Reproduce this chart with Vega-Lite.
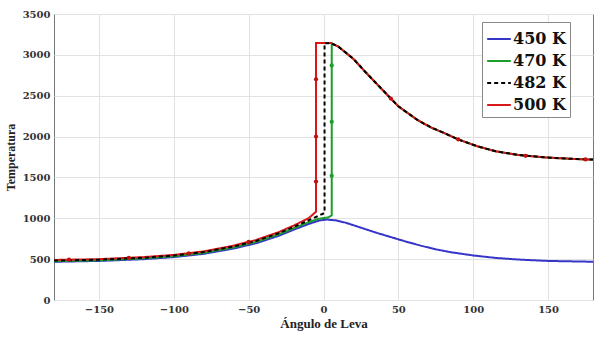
{
  "$schema": "https://vega.github.io/schema/vega-lite/v6.json",
  "width": 595,
  "height": 340,
  "autosize": {"type": "fit", "contains": "padding"},
  "padding": {"top": 9, "right": 2, "bottom": 10, "left": 4},
  "background": "white",
  "config": {
    "view": {"stroke": "#777", "strokeWidth": 1},
    "axis": {
      "gridColor": "#e2e2e2",
      "domain": false,
      "ticks": false
    }
  },
  "datasets": {
    "curves": [
      {"series": "450 K", "angle": -180, "temp": 468},
      {"series": "450 K", "angle": -150, "temp": 478},
      {"series": "450 K", "angle": -120, "temp": 500},
      {"series": "450 K", "angle": -100, "temp": 525},
      {"series": "450 K", "angle": -80, "temp": 565},
      {"series": "450 K", "angle": -60, "temp": 630},
      {"series": "450 K", "angle": -45, "temp": 695},
      {"series": "450 K", "angle": -30, "temp": 785},
      {"series": "450 K", "angle": -20, "temp": 860},
      {"series": "450 K", "angle": -10, "temp": 930},
      {"series": "450 K", "angle": -3, "temp": 972},
      {"series": "450 K", "angle": 2, "temp": 985},
      {"series": "450 K", "angle": 8, "temp": 975},
      {"series": "450 K", "angle": 15, "temp": 945},
      {"series": "450 K", "angle": 25, "temp": 885},
      {"series": "450 K", "angle": 35, "temp": 825},
      {"series": "450 K", "angle": 45, "temp": 770},
      {"series": "450 K", "angle": 55, "temp": 715},
      {"series": "450 K", "angle": 65, "temp": 665},
      {"series": "450 K", "angle": 75, "temp": 620},
      {"series": "450 K", "angle": 85, "temp": 585},
      {"series": "450 K", "angle": 100, "temp": 545},
      {"series": "450 K", "angle": 115, "temp": 515},
      {"series": "450 K", "angle": 130, "temp": 495},
      {"series": "450 K", "angle": 150, "temp": 478},
      {"series": "450 K", "angle": 180, "temp": 468},

      {"series": "470 K", "angle": -180, "temp": 475},
      {"series": "470 K", "angle": -150, "temp": 486},
      {"series": "470 K", "angle": -120, "temp": 510},
      {"series": "470 K", "angle": -100, "temp": 536},
      {"series": "470 K", "angle": -80, "temp": 577},
      {"series": "470 K", "angle": -60, "temp": 645},
      {"series": "470 K", "angle": -45, "temp": 712},
      {"series": "470 K", "angle": -30, "temp": 803},
      {"series": "470 K", "angle": -20, "temp": 878},
      {"series": "470 K", "angle": -10, "temp": 952},
      {"series": "470 K", "angle": -3, "temp": 995},
      {"series": "470 K", "angle": 3, "temp": 1010},
      {"series": "470 K", "angle": 5.5, "temp": 1035},
      {"series": "470 K", "angle": 5.5, "temp": 3140},
      {"series": "470 K", "angle": 10, "temp": 3100},
      {"series": "470 K", "angle": 20, "temp": 2950},
      {"series": "470 K", "angle": 28, "temp": 2790},
      {"series": "470 K", "angle": 40, "temp": 2560},
      {"series": "470 K", "angle": 50, "temp": 2370},
      {"series": "470 K", "angle": 63, "temp": 2200},
      {"series": "470 K", "angle": 72, "temp": 2110},
      {"series": "470 K", "angle": 81, "temp": 2040},
      {"series": "470 K", "angle": 90, "temp": 1965},
      {"series": "470 K", "angle": 103, "temp": 1880},
      {"series": "470 K", "angle": 115, "temp": 1820},
      {"series": "470 K", "angle": 130, "temp": 1775},
      {"series": "470 K", "angle": 148, "temp": 1745},
      {"series": "470 K", "angle": 165, "temp": 1728},
      {"series": "470 K", "angle": 180, "temp": 1718},

      {"series": "500 K", "angle": -180, "temp": 490},
      {"series": "500 K", "angle": -150, "temp": 500},
      {"series": "500 K", "angle": -120, "temp": 525},
      {"series": "500 K", "angle": -100, "temp": 552},
      {"series": "500 K", "angle": -80, "temp": 595},
      {"series": "500 K", "angle": -60, "temp": 665},
      {"series": "500 K", "angle": -45, "temp": 735},
      {"series": "500 K", "angle": -30, "temp": 830},
      {"series": "500 K", "angle": -20, "temp": 910},
      {"series": "500 K", "angle": -10, "temp": 1000},
      {"series": "500 K", "angle": -5, "temp": 1080},
      {"series": "500 K", "angle": -5, "temp": 3145},
      {"series": "500 K", "angle": 5, "temp": 3145},
      {"series": "500 K", "angle": 10, "temp": 3100},
      {"series": "500 K", "angle": 20, "temp": 2950},
      {"series": "500 K", "angle": 28, "temp": 2790},
      {"series": "500 K", "angle": 40, "temp": 2560},
      {"series": "500 K", "angle": 50, "temp": 2370},
      {"series": "500 K", "angle": 63, "temp": 2200},
      {"series": "500 K", "angle": 72, "temp": 2110},
      {"series": "500 K", "angle": 81, "temp": 2040},
      {"series": "500 K", "angle": 90, "temp": 1965},
      {"series": "500 K", "angle": 103, "temp": 1880},
      {"series": "500 K", "angle": 115, "temp": 1820},
      {"series": "500 K", "angle": 130, "temp": 1775},
      {"series": "500 K", "angle": 148, "temp": 1745},
      {"series": "500 K", "angle": 165, "temp": 1728},
      {"series": "500 K", "angle": 180, "temp": 1718},

      {"series": "482 K", "angle": -180, "temp": 482},
      {"series": "482 K", "angle": -150, "temp": 493},
      {"series": "482 K", "angle": -120, "temp": 517},
      {"series": "482 K", "angle": -100, "temp": 544},
      {"series": "482 K", "angle": -80, "temp": 586},
      {"series": "482 K", "angle": -60, "temp": 655},
      {"series": "482 K", "angle": -45, "temp": 723},
      {"series": "482 K", "angle": -30, "temp": 816},
      {"series": "482 K", "angle": -20, "temp": 893},
      {"series": "482 K", "angle": -10, "temp": 975},
      {"series": "482 K", "angle": -4, "temp": 1025},
      {"series": "482 K", "angle": 0.7, "temp": 1065},
      {"series": "482 K", "angle": 0.7, "temp": 3142},
      {"series": "482 K", "angle": 5, "temp": 3142},
      {"series": "482 K", "angle": 10, "temp": 3100},
      {"series": "482 K", "angle": 20, "temp": 2950},
      {"series": "482 K", "angle": 28, "temp": 2790},
      {"series": "482 K", "angle": 40, "temp": 2560},
      {"series": "482 K", "angle": 50, "temp": 2370},
      {"series": "482 K", "angle": 63, "temp": 2200},
      {"series": "482 K", "angle": 72, "temp": 2110},
      {"series": "482 K", "angle": 81, "temp": 2040},
      {"series": "482 K", "angle": 90, "temp": 1965},
      {"series": "482 K", "angle": 103, "temp": 1880},
      {"series": "482 K", "angle": 115, "temp": 1820},
      {"series": "482 K", "angle": 130, "temp": 1775},
      {"series": "482 K", "angle": 148, "temp": 1745},
      {"series": "482 K", "angle": 165, "temp": 1728},
      {"series": "482 K", "angle": 180, "temp": 1718}
    ],
    "markers": [
      {"series": "500 K", "angle": -170, "temp": 493},
      {"series": "500 K", "angle": -130, "temp": 515},
      {"series": "500 K", "angle": -90, "temp": 572},
      {"series": "500 K", "angle": -50, "temp": 710},
      {"series": "500 K", "angle": -5, "temp": 1450},
      {"series": "500 K", "angle": -5, "temp": 2000},
      {"series": "500 K", "angle": -5, "temp": 2700},
      {"series": "500 K", "angle": 45, "temp": 2465},
      {"series": "500 K", "angle": 90, "temp": 1965},
      {"series": "500 K", "angle": 135, "temp": 1765},
      {"series": "500 K", "angle": 175, "temp": 1720},
      {"series": "470 K", "angle": 5.5, "temp": 1520},
      {"series": "470 K", "angle": 5.5, "temp": 2180},
      {"series": "470 K", "angle": 5.5, "temp": 2870}
    ]
  },
  "layer": [
    {
      "data": {"name": "curves"},
      "mark": {"type": "line", "strokeWidth": 2, "clip": true},
      "encoding": {
        "x": {
          "field": "angle", "type": "quantitative",
          "scale": {"domain": [-180, 180], "nice": false},
          "axis": {
            "title": "Ángulo de Leva",
            "values": [-150, -100, -50, 0, 50, 100, 150],
            "format": "d",
            "grid": true,
            "labelFont": "DejaVu Serif",
            "labelFontWeight": "bold",
            "labelFontSize": 10,
            "labelColor": "#333",
            "labelPadding": 4,
            "titleFont": "Liberation Serif",
            "titleFontWeight": "bold",
            "titleFontSize": 13,
            "titleColor": "#222",
            "titlePadding": 3
          }
        },
        "y": {
          "field": "temp", "type": "quantitative",
          "scale": {"domain": [0, 3500], "nice": false},
          "axis": {
            "title": "Temperatura",
            "values": [0, 500, 1000, 1500, 2000, 2500, 3000, 3500],
            "format": "d",
            "grid": true,
            "labelFont": "DejaVu Serif",
            "labelFontWeight": "bold",
            "labelFontSize": 10,
            "labelColor": "#333",
            "labelPadding": 4,
            "titleFont": "Liberation Serif",
            "titleFontWeight": "bold",
            "titleFontSize": 12,
            "titleColor": "#222",
            "titlePadding": 5
          }
        },
        "color": {
          "field": "series", "type": "nominal",
          "scale": {"domain": ["450 K", "470 K", "482 K", "500 K"], "range": ["#3535c8", "#1c9e2a", "#000000", "#d81818"]},
          "legend": {
            "title": null,
            "orient": "none",
            "legendX": 428,
            "legendY": 8,
            "symbolType": "stroke",
            "symbolSize": 560,
            "symbolStrokeWidth": 2,
            "labelFont": "DejaVu Serif",
            "labelFontSize": 16,
            "labelFontWeight": "bold",
            "labelColor": "#111",
            "labelOffset": 1,
            "rowPadding": 1,
            "padding": 4,
            "fillColor": "white",
            "strokeColor": "#888"
          }
        },
        "strokeDash": {
          "field": "series", "type": "nominal",
          "scale": {"domain": ["450 K", "470 K", "482 K", "500 K"], "range": [[1, 0], [1, 0], [4, 3], [1, 0]]},
          "legend": {"title": null}
        },
        "order": {"value": null}
      }
    },
    {
      "data": {"name": "markers"},
      "mark": {"type": "point", "filled": true, "size": 18, "opacity": 1},
      "encoding": {
        "x": {"field": "angle", "type": "quantitative"},
        "y": {"field": "temp", "type": "quantitative"},
        "fill": {
          "field": "series", "type": "nominal",
          "scale": {"domain": ["470 K", "500 K"], "range": ["#1c9e2a", "#c01010"]},
          "legend": null
        }
      }
    }
  ],
  "resolve": {"scale": {"fill": "independent"}}
}
